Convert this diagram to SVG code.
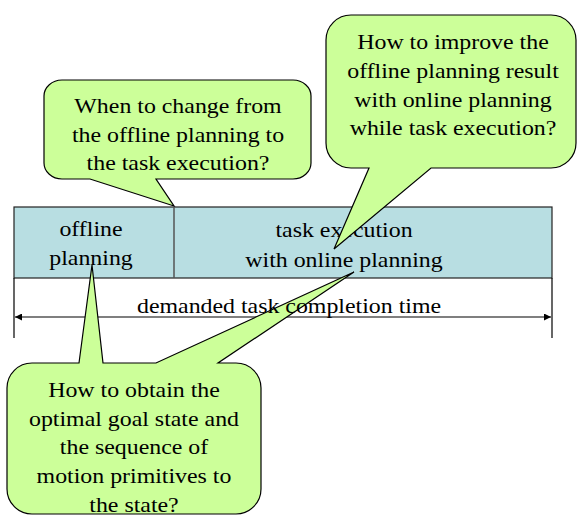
<svg xmlns="http://www.w3.org/2000/svg" width="577" height="516" viewBox="0 0 577 516">
<defs>
<style>
.t{font-family:"Liberation Serif","Times New Roman",serif;font-size:22px;text-anchor:middle;fill:#000}
.co{fill:#ccff99;stroke:#000;stroke-width:1.2;stroke-linejoin:miter}
.bar{fill:#b8dee2;stroke:#222;stroke-width:1.2}
.ln{stroke:#000;stroke-width:1.2;fill:none}
</style>
<marker id="ah" viewBox="0 0 10 10" refX="10" refY="5" markerWidth="7" markerHeight="7" markerUnits="userSpaceOnUse" orient="auto-start-reverse">
<path d="M0,0 L10,5 L0,10 Z" fill="#000"/>
</marker>
</defs>
<rect width="577" height="516" fill="#fff"/>

<g id="bar">
<rect class="bar" x="14" y="207" width="538" height="71"/>
<line x1="174" y1="207" x2="174" y2="278" stroke="#555" stroke-width="1.5"/>
</g>
<g id="offline-planning">
<g transform="translate(91,0) scale(1.085,1)">
<text class="t" x="0" y="236">offline</text>
<text class="t" x="0" y="265">planning</text>
</g>
</g>
<g id="task-execution">
<g transform="translate(344,0) scale(1.085,1)">
<text class="t" x="0" y="237">task execution</text>
<text class="t" x="0" y="267">with online planning</text>
</g>
</g>

<g id="connectors">
<line class="ln" x1="14" y1="278" x2="14" y2="338"/>
<line class="ln" x1="552" y1="278" x2="552" y2="338"/>
<line class="ln" x1="15" y1="317" x2="551" y2="317" stroke-width="1.8" marker-start="url(#ah)" marker-end="url(#ah)"/>
</g>

<g id="callout-when">
<path class="co" d="M62,80 H293 A18 16 0 0 1 311,96 V163 A18 16 0 0 1 293,179 H156 L174,206 L90,179 H62 A18 16 0 0 1 44,163 V96 A18 16 0 0 1 62,80 Z"/>
<g transform="translate(178,0) scale(1.085,1)">
<text class="t" x="0" y="113">When to change from</text>
<text class="t" x="0" y="142">the offline planning to</text>
<text class="t" x="0" y="170">the task execution?</text>
</g>
</g>

<g id="callout-improve">
<path class="co" d="M351,15 H551 A25 25 0 0 1 576,40 V143 A25 25 0 0 1 551,168 H431 L334,249 L369,168 H351 A25 25 0 0 1 326,143 V40 A25 25 0 0 1 351,15 Z"/>
<g transform="translate(453,0) scale(1.085,1)">
<text class="t" x="0" y="49">How to improve the</text>
<text class="t" x="0" y="78">offline planning result</text>
<text class="t" x="0" y="107">with online planning</text>
<text class="t" x="0" y="135">while task execution?</text>
</g>
</g>

<g id="callout-obtain">
<path class="co" d="M32,363 H79 L92,265 L103,363 H156 L354,272 L218,363 H236 A25 25 0 0 1 261,388 V489 A25 25 0 0 1 236,514 H32 A25 25 0 0 1 7,489 V388 A25 25 0 0 1 32,363 Z"/>
<g transform="translate(134,0) scale(1.085,1)">
<text class="t" x="0" y="397">How to obtain the</text>
<text class="t" x="0" y="426">optimal goal state and</text>
<text class="t" x="0" y="454">the sequence of</text>
<text class="t" x="0" y="483">motion primitives to</text>
<text class="t" x="0" y="512">the state?</text>
</g>
</g>

<g id="duration-label">
<g transform="translate(289,0) scale(1.085,1)">
<text class="t" x="0" y="313">demanded task completion time</text>
</g>
</g>
</svg>
